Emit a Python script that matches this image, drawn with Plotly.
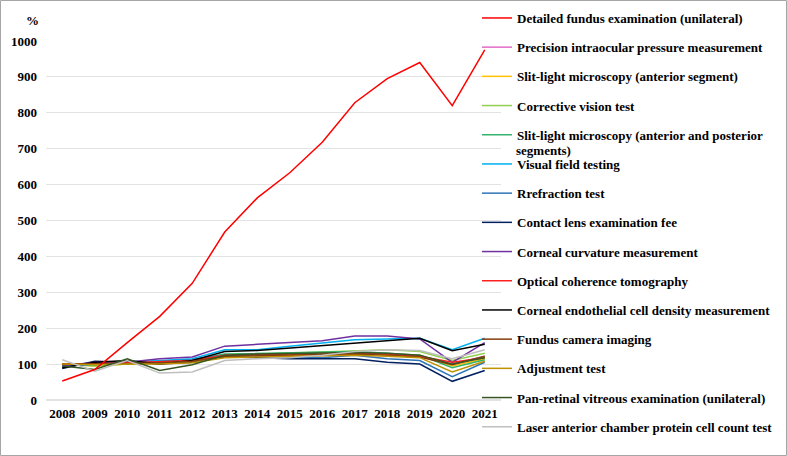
import plotly.graph_objects as go

years = [str(y) for y in range(2008, 2022)]

names = [
    "Detailed fundus examination (unilateral)",
    "Precision intraocular pressure measurement",
    "Slit-light microscopy (anterior segment)",
    "Corrective vision test",
    "Slit-light microscopy (anterior and posterior",
    "Visual field testing",
    "Rrefraction test",
    "Contact lens examination fee",
    "Corneal curvature measurement",
    "Optical coherence tomography",
    "Corneal endothelial cell density measurement",
    "Fundus camera imaging",
    "Adjustment test",
    "Pan-retinal vitreous examination (unilateral)",
    "Laser anterior chamber protein cell count test",
]
name_continuation = "segments)"  # second line of the 5th legend entry

colors = [
    "#FF0000", "#E36BC8", "#FFC000", "#92D050", "#33B36B",
    "#00B0F0", "#2E75B6", "#002060", "#7030A0", "#FF2020",
    "#000000", "#843C0C", "#BF9000", "#375623", "#BFBFBF",
]

detailed_fundus = [53, 85, 160, 233, 325, 468, 563, 633, 718, 828, 895, 940, 820, 975]
precision_iop = [98, 100, 103, 105, 110, 125, 128, 130, 130, 132, 128, 122, 100, 122]
slit_anterior = [100, 95, 100, 102, 105, 120, 122, 125, 128, 130, 128, 125, 95, 115]
corrective_vision = [100, 95, 100, 105, 110, 125, 128, 132, 135, 138, 140, 135, 110, 130]
slit_ant_post = [100, 98, 105, 108, 112, 128, 130, 132, 133, 135, 130, 125, 90, 112]
visual_field = [95, 100, 105, 110, 115, 140, 140, 150, 158, 168, 170, 172, 140, 172]
refraction = [95, 100, 102, 108, 112, 125, 122, 120, 118, 125, 115, 110, 65, 105]
contact_lens = [88, 108, 105, 100, 105, 120, 118, 115, 115, 115, 105, 100, 52, 82]
corneal_curvature = [95, 105, 105, 115, 120, 150, 155, 160, 165, 178, 178, 170, 105, 160]
oct = [100, 100, 104, 106, 110, 125, 127, 128, 128, 130, 128, 122, 105, 118]
corneal_endothelial = [90, 105, 110, 100, 110, 135, 138, 145, 152, 160, 165, 172, 137, 155]
fundus_camera = [100, 100, 102, 104, 108, 122, 123, 125, 125, 128, 125, 120, 98, 122]
adjustment = [100, 98, 100, 100, 104, 118, 120, 122, 122, 125, 122, 118, 78, 108]
pan_retinal = [95, 85, 115, 82, 98, 125, 128, 130, 130, 132, 130, 125, 100, 118]
laser_flare = [112, 80, 110, 75, 78, 110, 115, 118, 125, 135, 140, 138, 115, 140]

series = [
    detailed_fundus, precision_iop, slit_anterior, corrective_vision, slit_ant_post,
    visual_field, refraction, contact_lens, corneal_curvature, oct,
    corneal_endothelial, fundus_camera, adjustment, pan_retinal, laser_flare,
]

y_ticks = list(range(0, 1001, 100))

W, H = 787, 456
L, R, T, B = 46, 501, 41, 400

fig = go.Figure()
order = list(range(1, len(series))) + [0]
for i in order:
    fig.add_trace(go.Scatter(
        x=years, y=series[i], name=names[i], mode="lines",
        line=dict(color=colors[i], width=1.5),
        legendgroup=f"g{i:02d}", legendrank=i + 1,
    ))

font = dict(family="Liberation Serif", size=13, color="#000000", weight="bold")

fig.update_layout(
    width=W, height=H,
    margin=dict(l=L, r=W - R, t=T, b=H - B, autoexpand=False),
    paper_bgcolor="white", plot_bgcolor="white",
    font=font,
    showlegend=True,
    legend=dict(
        xref="container", yref="container",
        x=477 / W, y=1 - 3 / H, xanchor="left", yanchor="top",
        font=font, tracegroupgap=9.3, bgcolor="rgba(0,0,0,0)",
        traceorder="grouped", maxheight=1.0,
    ),
    xaxis=dict(
        type="category", showgrid=False, showline=False, ticks="",
        tickfont=font, range=[-0.5, len(years) - 0.5], ticklabelstandoff=4,
    ),
    yaxis=dict(
        range=[0, 1000], tickvals=y_ticks, showgrid=True, gridcolor="#E3E3E3",
        gridwidth=1, zeroline=True, zerolinecolor="#E3E3E3", showline=False,
        tickfont=font, ticks="", ticklabelstandoff=8,
    ),
    annotations=[
        dict(
            text="%", xref="paper", yref="paper",
            x=(32 - L) / (R - L), y=(B - 21) / (B - T),
            showarrow=False, font=font, xanchor="center", yanchor="middle",
        ),
        dict(
            text=name_continuation, xref="paper", yref="paper",
            x=(514 - L) / (R - L), y=(B - 150) / (B - T),
            showarrow=False, font=font, xanchor="left", yanchor="middle",
        ),
    ],
    shapes=[dict(
        type="rect", xref="paper", yref="paper",
        x0=(0.5 - L) / (R - L), x1=(786.5 - L) / (R - L),
        y0=(B - 455.5) / (B - T), y1=(B - 0.5) / (B - T),
        line=dict(color="#A6A6A6", width=1), fillcolor="rgba(0,0,0,0)",
        layer="below",
    )],
)

fig.write_html("out.html")
